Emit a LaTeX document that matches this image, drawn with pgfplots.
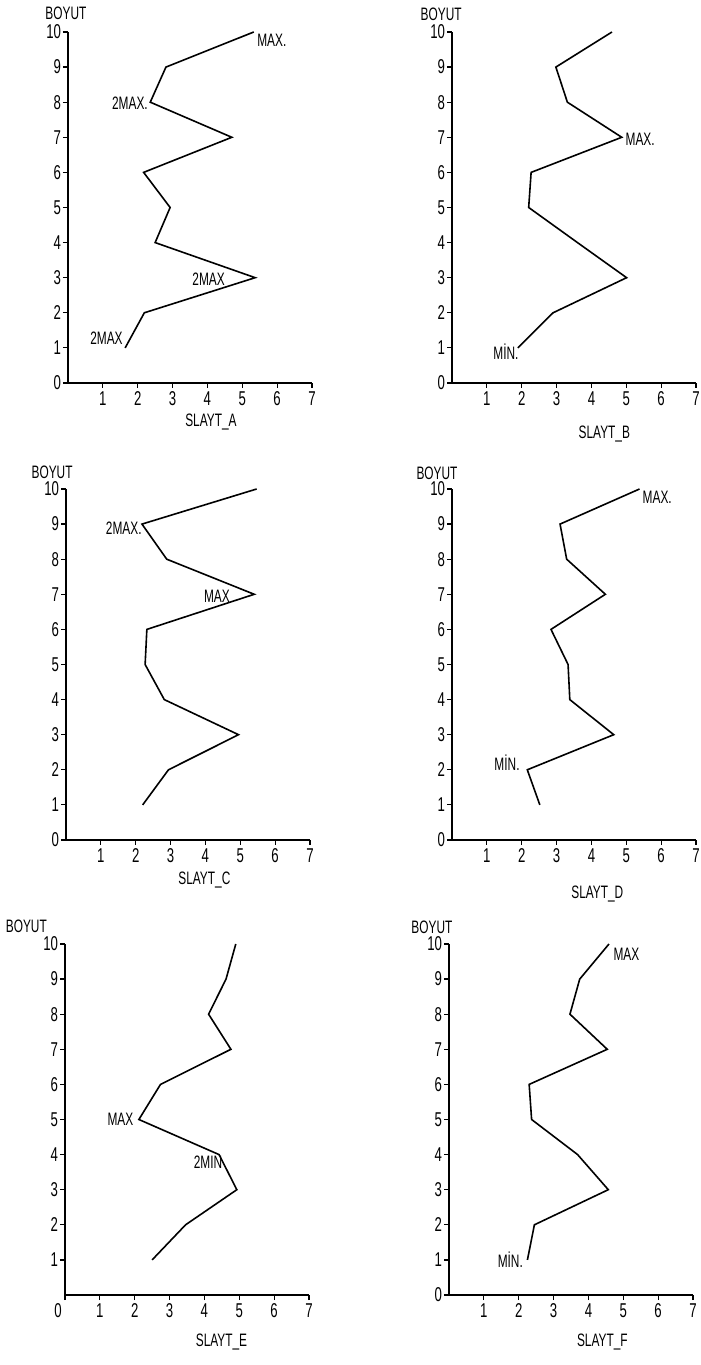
\documentclass[border=0pt]{standalone}
\usepackage{pgfplots}
\pgfplotsset{compat=1.18}
\usepackage{fontspec}
\setmainfont{Liberation Sans}[FakeStretch=0.66]

\newcommand\lbl{\fontsize{9}{10}\selectfont}

\tikzset{
  curve/.style={black, line width=0.8pt},
  note/.style={font=\lbl, inner sep=0pt},
}

\pgfplotsset{
  slayt/.style={
    scale only axis, width=122pt, height=175.5pt,
    anchor=origin,
    xmin=0, xmax=7, ymin=0, ymax=10,
    axis lines=left,
    axis line style={-, line width=1.3pt},
    xtick={1,...,7}, ytick={0,...,10},
    tick align=outside,
    major tick length=2.5pt,
    tick style={black, line width=0.6pt},
    ticklabel style={font=\fontsize{10}{11}\selectfont},
    xticklabel style={inner sep=1.5pt},
    yticklabel style={inner sep=0.8pt},
    /pgf/number format/assume math mode=true,
    clip=false,
  },
}

\begin{document}
\begin{tikzpicture}
\useasboundingbox (0,0) rectangle (350.5pt,682.5pt);

% SLAYT_A
\begin{axis}[slayt, at={(34pt,491pt)}]
\addplot[curve] coordinates {(1.64,1) (2.19,2) (5.37,3) (2.50,4) (2.93,5) (2.17,6) (4.70,7) (2.36,8) (2.81,9) (5.33,10)};
\node[note, anchor=west] at (axis cs:5.42,9.75) {MAX.};
\node[note, anchor=east] at (axis cs:2.30,7.96) {2MAX.};
\node[note, anchor=east] at (axis cs:4.51,2.96) {2MAX};
\node[note, anchor=east] at (axis cs:1.58,1.28) {2MAX};
\node[note] at (axis cs:-0.06,10.54) {BOYUT};
\node[note] at (axis cs:4.10,-1.12) {SLAYT\_A};
\end{axis}

% SLAYT_B
\begin{axis}[slayt, at={(226pt,491pt)}]
\addplot[curve] coordinates {(1.89,1) (2.90,2) (5.01,3) (3.60,4) (2.20,5) (2.27,6) (4.87,7) (3.31,8) (2.98,9) (4.59,10)};
\node[note, anchor=west] at (axis cs:4.97,6.95) {MAX.};
\node[note, anchor=east] at (axis cs:1.92,0.90) {MİN.};
\node[note] at (axis cs:-0.31,10.50) {BOYUT};
\node[note] at (axis cs:4.37,-1.45) {SLAYT\_B};
\end{axis}

% SLAYT_C
\begin{axis}[slayt, at={(33pt,262.5pt)}]
\addplot[curve] coordinates {(2.20,1) (2.94,2) (4.95,3) (2.82,4) (2.27,5) (2.32,6) (5.40,7) (2.89,8) (2.18,9) (5.47,10)};
\node[note, anchor=east] at (axis cs:2.18,8.89) {2MAX.};
\node[note, anchor=east] at (axis cs:4.71,6.94) {MAX};
\node[note] at (axis cs:-0.40,10.48) {BOYUT};
\node[note] at (axis cs:3.97,-1.14) {SLAYT\_C};
\end{axis}

% SLAYT_D
\begin{axis}[slayt, at={(226pt,262.5pt)}]
\addplot[curve] coordinates {(2.52,1) (2.16,2) (4.64,3) (3.38,4) (3.33,5) (2.84,6) (4.40,7) (3.29,8) (3.10,9) (5.38,10)};
\node[note, anchor=west] at (axis cs:5.46,9.76) {MAX.};
\node[note, anchor=east] at (axis cs:1.95,2.20) {MİN.};
\node[note] at (axis cs:-0.43,10.46) {BOYUT};
\node[note] at (axis cs:4.17,-1.54) {SLAYT\_D};
\end{axis}

% SLAYT_E
\begin{axis}[slayt, at={(32.5pt,35pt)}, ytick={1,...,10},
  extra x ticks={0}, extra x tick style={xticklabel style={xshift=-3.5pt}}]
\addplot[curve] coordinates {(2.50,1) (3.46,2) (4.93,3) (4.42,4) (2.12,5) (2.74,6) (4.76,7) (4.12,8) (4.62,9) (4.90,10)};
\node[note, anchor=east] at (axis cs:1.97,5.01) {MAX};
\node[note, anchor=east] at (axis cs:4.52,3.78) {2MIN};
\node[note] at (axis cs:-1.11,10.51) {BOYUT};
\node[note] at (axis cs:4.49,-1.34) {SLAYT\_E};
\end{axis}

% SLAYT_F
\begin{axis}[slayt, at={(224.5pt,35pt)}]
\addplot[curve] coordinates {(2.25,1) (2.45,2) (4.57,3) (3.69,4) (2.37,5) (2.30,6) (4.54,7) (3.47,8) (3.75,9) (4.59,10)};
\node[note, anchor=west] at (axis cs:4.71,9.72) {MAX};
\node[note, anchor=east] at (axis cs:2.13,1.00) {MİN.};
\node[note] at (axis cs:-0.49,10.48) {BOYUT};
\node[note] at (axis cs:4.40,-1.34) {SLAYT\_F};
\end{axis}

\end{tikzpicture}
\end{document}
